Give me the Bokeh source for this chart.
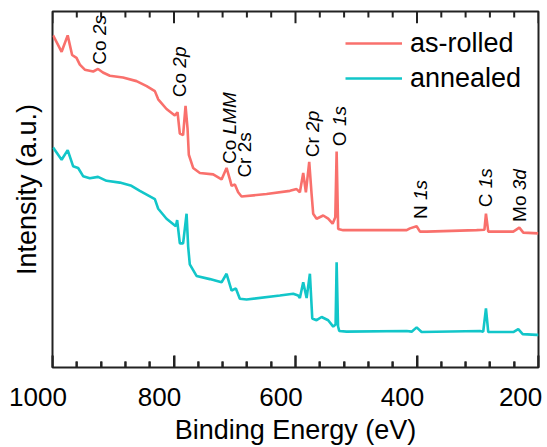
import numpy as np
from bokeh.plotting import figure
from bokeh.models import Range1d, FixedTicker, LinearAxis, Legend, LegendItem
from bokeh.embed import file_html
from bokeh.resources import INLINE
from bokeh.core.properties import value

# ---- data ----
energy_rolled = [999, 985, 975, 967.7, 960.5, 955, 946.8, 933, 925, 917, 905.6, 884, 861.7, 845,
                 831.5, 826, 812.3, 798.6, 794.2, 790.4, 785, 781, 777.7, 775.6, 768.5, 757.4,
                 735.5, 721.7, 713.5, 708, 705.2, 699.8, 694.4, 688.8, 647.6, 609.2, 598.2,
                 592.8, 587.3, 582.9, 577.4, 573.5, 570.9, 565.3, 554.4, 546.2, 538.9, 534.5,
                 532.3, 530.0, 529.7, 521.5, 494, 417, 411.6, 400.6, 395.1, 384.1, 301.8, 289,
                 286.5, 282.7, 241.5, 231.6, 225, 200.3]
intensity_rolled = [93.4, 88.8, 93.4, 87.9, 87.1, 85.2, 83.8, 83.3, 84.0, 83.0, 82.1, 81.6, 80.6, 79.2,
                    77.8, 75.5, 72.8, 71.0, 71.9, 65.9, 65.5, 73.7, 67.3, 60.0, 56.3, 54.9,
                    54.5, 53.1, 56.3, 53.1, 51.3, 51.7, 49.5, 48.3, 49.0, 49.9, 50.4,
                    49.5, 54.9, 49.5, 58.0, 49.0, 43.5, 42.1, 43.0, 42.1, 40.7, 42.5,
                    60.9, 41.0, 39.2, 38.9, 38.9, 38.9, 39.4, 40.0, 38.5, 38.5, 38.9, 39.0,
                    43.5, 38.5, 38.5, 39.6, 38.2, 38.0]

energy_annealed = [999, 985, 975, 966.1, 957.8, 949.6, 938.6, 925, 911, 889.2, 870, 856.2, 831.5,
                   826, 812.3, 797, 794.8, 790.4, 785, 779.3, 776.7, 774, 762.9, 741, 721.7,
                   713.5, 705.2, 698.2, 691.6, 680.5, 625.7, 603.8, 595.6, 592.8, 587.3, 581.7,
                   576.3, 572.4, 565.3, 557, 546.2, 537.9, 534, 532.3, 530, 528, 515.9, 417,
                   408.8, 400.6, 392.4, 296.4, 291, 286.5, 282.7, 241.5, 233.3, 226, 202.9, 200]
intensity_annealed = [62.0, 58.6, 61.3, 56.8, 56.3, 54.0, 53.4, 53.8, 52.7, 52.2, 51.3, 49.9, 47.6,
                      44.9, 42.1, 40.0, 41.7, 35.2, 35.2, 43.5, 34.3, 29.3, 26.1, 25.2, 24.3,
                      26.7, 22.0, 22.6, 19.7, 19.5, 20.6, 21.1, 20.6, 19.9, 24.3, 19.9,
                      26.7, 14.2, 13.7, 14.6, 13.7, 11.9, 12.5, 29.9, 12.0, 10.7, 10.5, 10.7,
                      10.5, 11.7, 10.4, 10.7, 10.5, 17.0, 10.4, 10.4, 11.2, 9.8, 9.6, 9.6]

series_names = ["as-rolled", "annealed"]
series_colors = ["#F9706C", "#12C6C9"]

peak_prefix = ["Co ", "Co ", "Co ", "Cr ", "Cr ", "O ", "N ", "C ", "Mo "]
peak_suffix = ["2s", "2p", "LMM", "2s", "2p", "1s", "1s", "1s", "3d"]
peak_italic = [True, True, True, False, True, True, True, True, True]
peak_energy = [923, 791, 709, 684, 572, 527.5, 394, 287, 231]
peak_label_y = [85.2, 76.1, 57.4, 53.6, 59.3, 62.4, 42.0, 45.3, 41.2]

x_ticks = [1000, 800, 600, 400, 200]
x_minor = [t for t in range(200, 1001, 40) if t not in x_ticks]

FONT = "Liberation Sans"
AX = "#222222"
Y0, Y1 = 0.47, 100.08
PX = 3.626  # screen px per y unit (frame height / range)

p = figure(width=547, height=447, output_backend="svg", toolbar_location=None,
           x_range=Range1d(1000, 200), y_range=Range1d(Y0, Y1),
           min_border_left=52, min_border_right=9, min_border_top=11, min_border_bottom=74)
p.grid.visible = False
p.outline_line_color = AX
p.outline_line_width = 2
p.background_fill_color = "white"
p.border_fill_color = "white"

r1 = p.line(energy_rolled, intensity_rolled, line_color=series_colors[0], line_width=2.6)
r2 = p.line(energy_annealed, intensity_annealed, line_color=series_colors[1], line_width=2.6)

# inward tick marks on the top edge (glyphs); bottom edge uses the axis' own ticks
maj_len, min_len = 12 / PX, 6 / PX
n1, n2 = len(x_ticks), len(x_minor)
p.segment(x0=x_ticks, x1=x_ticks, y0=[Y1] * n1, y1=[Y1 - maj_len] * n1, line_color=AX, line_width=2)
p.segment(x0=x_minor, x1=x_minor, y0=[Y1] * n2, y1=[Y1 - min_len] * n2, line_color=AX, line_width=2)
p.segment(x0=x_ticks, x1=x_ticks, y0=[Y0] * n1, y1=[Y0 + maj_len] * n1, line_color=AX, line_width=2)
p.segment(x0=x_minor, x1=x_minor, y0=[Y0] * n2, y1=[Y0 + min_len] * n2, line_color=AX, line_width=2)

# bottom axis: labels shifted left (like the reference)
xa = p.xaxis[0]
xa.ticker = FixedTicker(ticks=x_ticks, minor_ticks=x_minor)
xa.axis_line_color = None
xa.major_tick_in = 12
xa.major_tick_out = 0
xa.minor_tick_in = 6
xa.minor_tick_out = 0
xa.major_tick_line_color = AX
xa.minor_tick_line_color = AX
xa.major_tick_line_width = 2
xa.minor_tick_line_width = 2
overrides = {t: f"{t}\u2007\u2007" for t in x_ticks}
overrides[200] = "200\u2009"
xa.major_label_overrides = overrides
xa.major_label_text_font = FONT
xa.major_label_text_font_size = "26px"
xa.major_label_text_color = "black"
xa.major_label_standoff = 14
xa.axis_label = "Binding Energy (eV)"
xa.axis_label_text_font = FONT
xa.axis_label_text_font_size = "27px"
xa.axis_label_text_font_style = "normal"
xa.axis_label_text_color = "black"
xa.axis_label_standoff = 0

ya = p.yaxis[0]
ya.ticker = FixedTicker(ticks=[])
ya.axis_line_color = None
ya.major_tick_line_color = None
ya.minor_tick_line_color = None
ya.major_label_text_color = None
ya.major_label_standoff = 0
ya.axis_label = "Intensity (a.u.)"
ya.axis_label_text_font = FONT
ya.axis_label_text_font_size = "27px"
ya.axis_label_text_font_style = "normal"
ya.axis_label_text_color = "black"
ya.axis_label_standoff = 11

# peak annotations (normal prefix + italic suffix)
W = {"C": 0.722, "o": 0.556, " ": 0.278, "r": 0.333, "O": 0.778, "N": 0.722, "M": 0.833}
FS = 19
pre_w = [sum(W.get(c, 0.556) for c in s) * FS for s in peak_prefix]
p.text(x=peak_energy, y=peak_label_y, text=peak_prefix, angle=np.pi / 2,
       text_align="left", text_baseline="middle", text_font=value(FONT),
       text_font_size=f"{FS}px", text_color="black")
for ital in (True, False):
    idx = [i for i in range(len(peak_suffix)) if peak_italic[i] == ital]
    p.text(x=[peak_energy[i] for i in idx], y=[peak_label_y[i] for i in idx],
           text=[peak_suffix[i] for i in idx], y_offset=[-pre_w[i] for i in idx],
           angle=np.pi / 2, text_align="left", text_baseline="middle",
           text_font=value(FONT), text_font_size=f"{FS}px",
           text_font_style="italic" if ital else "normal", text_color="black")

legend = Legend(items=[LegendItem(label=series_names[0], renderers=[r1]),
                       LegendItem(label=series_names[1], renderers=[r2])],
                location=(293, 272), margin=0, padding=10, spacing=1,
                glyph_width=57, glyph_height=34, label_height=34, label_standoff=8,
                label_text_font=FONT, label_text_font_size="27px", label_text_color="black",
                border_line_color=None, background_fill_alpha=0)
p.add_layout(legend)

open("out.html", "w").write(file_html(p, INLINE))
